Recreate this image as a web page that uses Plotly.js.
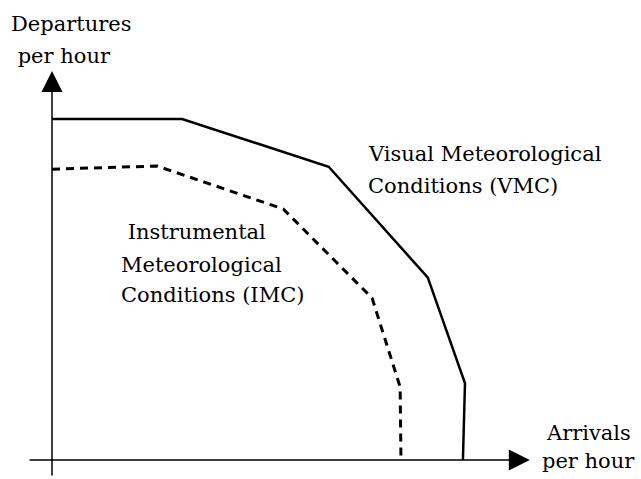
<!DOCTYPE html>
<html>
<head>
<meta charset="utf-8">
<script src="https://cdn.plot.ly/plotly-3.0.1.min.js"></script>
<style>html,body{margin:0;padding:0;background:#fff;}#chart{width:641px;height:479px;}</style>
</head>
<body>
<div id="chart"></div>
<script>
// Capacity envelopes (arbitrary units: arrivals / departures per hour)
const vmcArrivals   = [0, 31.5, 67, 91, 100, 99.5];
const vmcDepartures = [100, 100, 86, 53.5, 22.5, 0];
const imcArrivals   = [0, 25.5, 56, 77.5, 84.3, 84.5];
const imcDepartures = [85.3, 86.2, 73.6, 47.5, 21.4, 0];

const yAxisLabel = ["Departures", " per hour"];
const xAxisLabel = ["Arrivals", "per hour"];
const vmcLabel = ["Visual Meteorological", "Conditions (VMC)"];
const imcLabel = [" Instrumental", "Meteorological", "Conditions (IMC)"];

const W = 641, H = 479;
const xRange = [-12.59, 142.62];
const yRange = [-5.57, 134.9];
const FONT = {family: "DejaVu Serif", size: 21, color: "#000"};

function px(x) { return (x - 3) / W; }
function py(y) { return 1 - y / H; }
function label(text, x, y) {
  return {text: text, xref: "paper", yref: "paper", x: px(x), y: py(y),
          xanchor: "left", yanchor: "middle", showarrow: false, font: FONT};
}
function axisArrow(x, y, ax, ay) {
  return {text: "", x: x, y: y, ax: ax, ay: ay, xref: "x", yref: "y", axref: "x", ayref: "y",
          showarrow: true, arrowhead: 2, arrowwidth: 1.5, arrowsize: 2.8, arrowcolor: "#000", standoff: 0};
}

const traces = [
  {x: vmcArrivals, y: vmcDepartures, mode: "lines", name: "VMC",
   line: {color: "#000", width: 2.5}, hoverinfo: "skip"},
  {x: imcArrivals, y: imcDepartures, mode: "lines", name: "IMC",
   line: {color: "#000", width: 3, dash: "8px,6px"}, hoverinfo: "skip"}
];

const annotations = [
  axisArrow(115.7, 0, -5.8, 0),
  axisArrow(0, 114.1, 0, -5.0),
  label(yAxisLabel[0], 12, 24),
  label(yAxisLabel[1], 12, 56),
  label(vmcLabel[0], 369, 154),
  label(vmcLabel[1], 369, 186),
  label(imcLabel[0], 122, 232),
  label(imcLabel[1], 122, 265),
  label(imcLabel[2], 122, 295),
  label(xAxisLabel[0], 547, 433),
  label(xAxisLabel[1], 543, 461)
];

const layout = {
  width: W, height: H,
  margin: {l: 0, r: 0, t: 0, b: 0, pad: 0},
  paper_bgcolor: "#fff", plot_bgcolor: "#fff",
  showlegend: false,
  xaxis: {range: xRange, visible: false, fixedrange: true},
  yaxis: {range: yRange, visible: false, fixedrange: true},
  annotations: annotations
};

Plotly.newPlot("chart", traces, layout, {staticPlot: true, displayModeBar: false});
</script>
</body>
</html>
